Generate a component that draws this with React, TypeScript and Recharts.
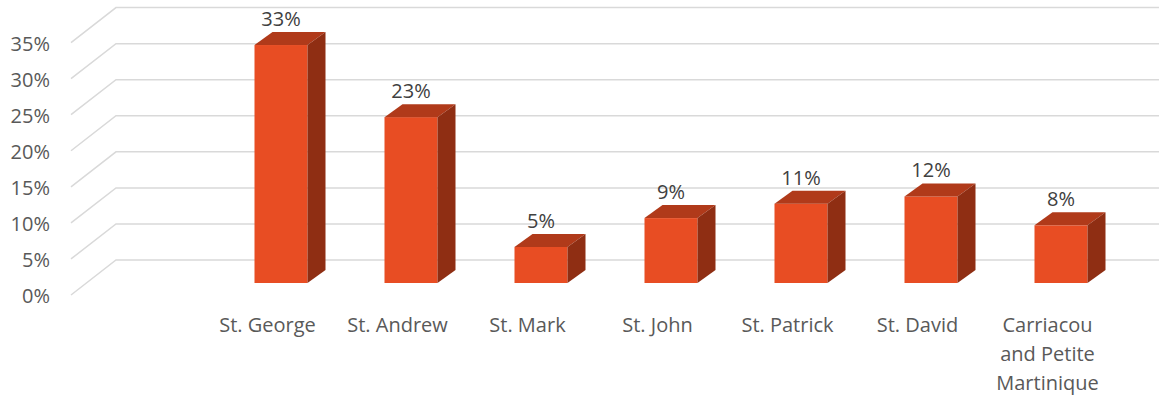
import { BarChart, Bar, XAxis, YAxis, CartesianGrid, LabelList } from "recharts";

const parishes = [
  "St. George",
  "St. Andrew",
  "St. Mark",
  "St. John",
  "St. Patrick",
  "St. David",
  "Carriacou and Petite Martinique",
];
const shares = [0.33, 0.23, 0.05, 0.09, 0.11, 0.12, 0.08];
const yTicks = [0, 0.05, 0.1, 0.15, 0.2, 0.25, 0.3, 0.35];

const data = parishes.map((name, i) => ({ name, share: shares[i] }));

const FONT = "'Open Sans', sans-serif";
const LEFT_PAD = 165.5;
const DEPTH_X = 18;
const DEPTH_Y = -13;

const pct = (v: number) => `${Math.round(v * 100)}%`;

// greedy word wrap by character count
const wrap = (s: string, max = 11) => {
  const lines: string[] = [];
  let cur = "";
  for (const w of s.split(" ")) {
    const next = cur ? `${cur} ${w}` : w;
    if (next.length > max && cur) {
      lines.push(cur);
      cur = w;
    } else {
      cur = next;
    }
  }
  if (cur) lines.push(cur);
  return lines;
};

// 3D box: front face, top face, right side
const Box = (props: any) => {
  const { x, y, width, height } = props;
  if (height <= 0) return null;
  const r = x + width;
  const b = y + height;
  return (
    <g>
      <rect x={x} y={y} width={width} height={height} fill="#E84D23" />
      <polygon
        points={`${x},${y} ${r},${y} ${r + DEPTH_X},${y + DEPTH_Y} ${x + DEPTH_X},${y + DEPTH_Y}`}
        fill="#B03A1A"
      />
      <polygon
        points={`${r},${y} ${r + DEPTH_X},${y + DEPTH_Y} ${r + DEPTH_X},${b + DEPTH_Y} ${r},${b}`}
        fill="#8F2E13"
      />
    </g>
  );
};

// back wall gridline with the slanted side-wall segment
const wallLine = (props: any) => {
  const { x1, x2, y1 } = props;
  return (
    <polyline
      points={`${x1 - 144.5},${y1 + 12} ${x1 - 99.5},${y1 - 23} ${x2 + 34},${y1 - 23}`}
      fill="none"
      stroke="#D9D9D9"
      strokeWidth={1.5}
    />
  );
};

const ValueTick = ({ x, y, payload }: any) => (
  <text x={x - LEFT_PAD} y={y + 20} textAnchor="end" fill="#595959" fontSize={20} fontFamily={FONT}>
    {pct(payload.value)}
  </text>
);

const CategoryTick = ({ x, y, payload }: any) => (
  <text x={x - 13} y={y + 48.5} textAnchor="middle" fill="#595959" fontSize={20} fontFamily={FONT}>
    {wrap(payload.value).map((line, i) => (
      <tspan key={i} x={x - 13} dy={i === 0 ? 0 : 29}>
        {line}
      </tspan>
    ))}
  </text>
);

const TopLabel = (props: any) => {
  const { x, y, width, value } = props;
  return (
    <text x={x + width / 2} y={y - 19} textAnchor="middle" fill="#404040" fontSize={20} fontFamily={FONT}>
      {pct(value)}
    </text>
  );
};

export default function App() {
  return (
    <div style={{ position: "absolute", left: 0, top: 0, background: "#fff" }}>
      <BarChart
        width={1159}
        height={396}
        data={data}
        margin={{ top: 30.6, right: 33.5, bottom: 0, left: LEFT_PAD }}
      >
        <CartesianGrid vertical={false} horizontal={wallLine} />
        <XAxis
          dataKey="name"
          axisLine={false}
          tickLine={false}
          tickSize={0}
          tickMargin={0}
          height={113}
          interval={0}
          tick={<CategoryTick />}
        />
        <YAxis
          domain={[0, 0.35]}
          ticks={yTicks}
          axisLine={false}
          tickLine={false}
          tickSize={0}
          tickMargin={0}
          width={50}
          tick={<ValueTick />}
        />
        <Bar dataKey="share" barSize={53} shape={<Box />} isAnimationActive={false}>
          <LabelList dataKey="share" content={<TopLabel />} />
        </Bar>
      </BarChart>
    </div>
  );
}
